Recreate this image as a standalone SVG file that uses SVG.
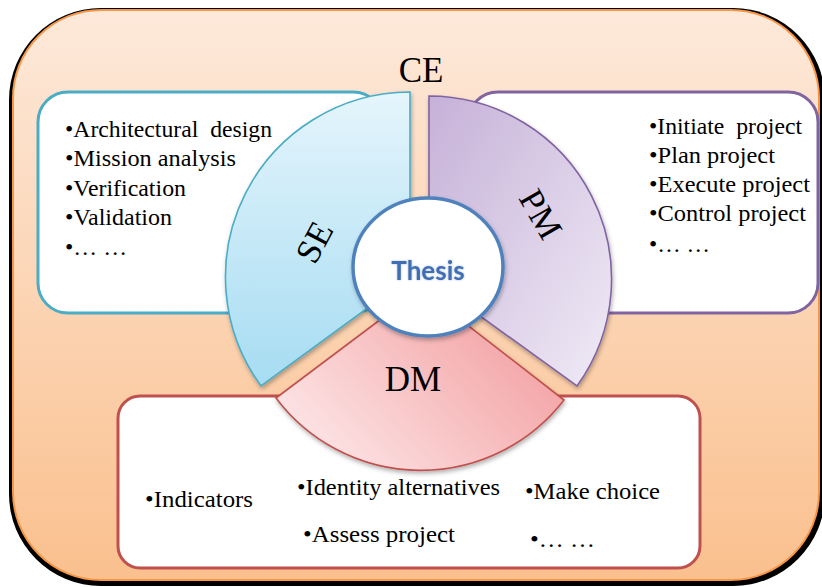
<svg xmlns="http://www.w3.org/2000/svg" width="822" height="587" viewBox="0 0 822 587">
<style>
.box{fill:#fff;stroke-width:3}
.sec{stroke-width:1.6}
</style>
<defs>
<linearGradient id="gBg" x1="0" y1="0" x2="0" y2="1">
<stop offset="0" stop-color="#FDE9DA"/>
<stop offset="1" stop-color="#FAC08E"/>
</linearGradient>
<linearGradient id="gSE" x1="0" y1="0" x2="0" y2="1">
<stop offset="0" stop-color="#E5F5FC"/>
<stop offset="1" stop-color="#A6DCF2"/>
</linearGradient>
<linearGradient id="gPM" x1="0" y1="0" x2="1" y2="1">
<stop offset="0" stop-color="#C6B1D8"/>
<stop offset="1" stop-color="#F0EBF6"/>
</linearGradient>
<linearGradient id="gDM" x1="0" y1="0.8" x2="1" y2="0.2">
<stop offset="0" stop-color="#FDE8E9"/>
<stop offset="1" stop-color="#F29A9C"/>
</linearGradient>
<filter id="sh" x="-10%" y="-10%" width="130%" height="130%">
<feDropShadow dx="1" dy="2.5" stdDeviation="2" flood-color="#000" flood-opacity="0.3"/>
</filter>
<filter id="glow" x="-20%" y="-30%" width="140%" height="160%">
<feGaussianBlur in="SourceAlpha" stdDeviation="1.2" result="b"/>
<feFlood flood-color="#9DB7DC" flood-opacity="0.9"/>
<feComposite in2="b" operator="in" result="g"/>
<feMerge><feMergeNode in="g"/><feMergeNode in="SourceGraphic"/></feMerge>
</filter>
</defs>

<g id="frame">
<rect x="9" y="8" width="816" height="578" rx="92" fill="#000"/>
<rect x="13" y="10" width="806" height="570" rx="88" fill="url(#gBg)" stroke="#F79646" stroke-width="2"/>
<text font-family="Liberation Serif" font-size="35" x="421" y="82" text-anchor="middle">CE</text>
</g>

<g id="box-se">
<rect class="box" x="38" y="92" width="345" height="221" rx="30" stroke="#4BACC6"/>
<g font-family="Liberation Serif" font-size="22.5" fill="#000">
<text x="65" y="137" textLength="207" lengthAdjust="spacingAndGlyphs">•Architectural&#160; design</text>
<text x="65" y="166" textLength="171" lengthAdjust="spacingAndGlyphs">•Mission analysis</text>
<text x="65" y="196" textLength="121" lengthAdjust="spacingAndGlyphs">•Verification</text>
<text x="65" y="225" textLength="107" lengthAdjust="spacingAndGlyphs">•Validation</text>
<text x="65" y="255" textLength="62" lengthAdjust="spacingAndGlyphs">•… …</text>
</g>
</g>

<g id="box-pm">
<rect class="box" x="468" y="92" width="350" height="221" rx="30" stroke="#8064A2"/>
<g font-family="Liberation Serif" font-size="22.5" fill="#000">
<text x="649" y="134" textLength="153" lengthAdjust="spacingAndGlyphs">•Initiate&#160; project</text>
<text x="649" y="163" textLength="126" lengthAdjust="spacingAndGlyphs">•Plan project</text>
<text x="649" y="192" textLength="161" lengthAdjust="spacingAndGlyphs">•Execute project</text>
<text x="649" y="221" textLength="157" lengthAdjust="spacingAndGlyphs">•Control project</text>
<text x="649" y="252" textLength="61" lengthAdjust="spacingAndGlyphs">•… …</text>
</g>
</g>

<g id="box-dm">
<rect class="box" x="118" y="396" width="582" height="172" rx="22" stroke="#C0504D"/>
<g font-family="Liberation Serif" font-size="22.5" fill="#000">
<text x="145" y="507" textLength="108" lengthAdjust="spacingAndGlyphs">•Indicators</text>
<text x="297" y="495" textLength="203" lengthAdjust="spacingAndGlyphs">•Identity alternatives</text>
<text x="525" y="499" textLength="135" lengthAdjust="spacingAndGlyphs">•Make choice</text>
<text x="303" y="542" textLength="152" lengthAdjust="spacingAndGlyphs">•Assess project</text>
<text x="530" y="547" textLength="65" lengthAdjust="spacingAndGlyphs">•… …</text>
</g>
</g>

<g id="sector-se">
<path class="sec" filter="url(#sh)" d="M410,277 L410,92 A185,185 0 0 0 261,386 Z" fill="url(#gSE)" stroke="#4BACC6"/>
<text font-family="Liberation Serif" font-size="35" transform="translate(314,242) rotate(-62)" text-anchor="middle" dy="12">SE</text>
</g>

<g id="sector-pm">
<path class="sec" filter="url(#sh)" d="M429,279 L429,96 A183,183 0 0 1 577,386 Z" fill="url(#gPM)" stroke="#8064A2"/>
<text font-family="Liberation Serif" font-size="35" transform="translate(541,214) rotate(60)" text-anchor="middle" dy="12">PM</text>
</g>

<g id="sector-dm">
<path class="sec" filter="url(#sh)" d="M421,289 L276,398 A181,181 0 0 0 564,400 Z" fill="url(#gDM)" stroke="#C0504D"/>
<text font-family="Liberation Serif" font-size="35" x="413" y="391" text-anchor="middle">DM</text>
</g>

<g id="thesis">
<ellipse cx="428" cy="267" rx="75" ry="69" fill="#fff" stroke="#4F81BD" stroke-width="3.5" filter="url(#sh)"/>
<text x="428" y="280" text-anchor="middle" font-family="Lato, 'Open Sans', sans-serif" font-weight="bold" font-size="26" fill="#3F6DB3" filter="url(#glow)">Thesis</text>
</g>

<g id="connectors"/>
</svg>
